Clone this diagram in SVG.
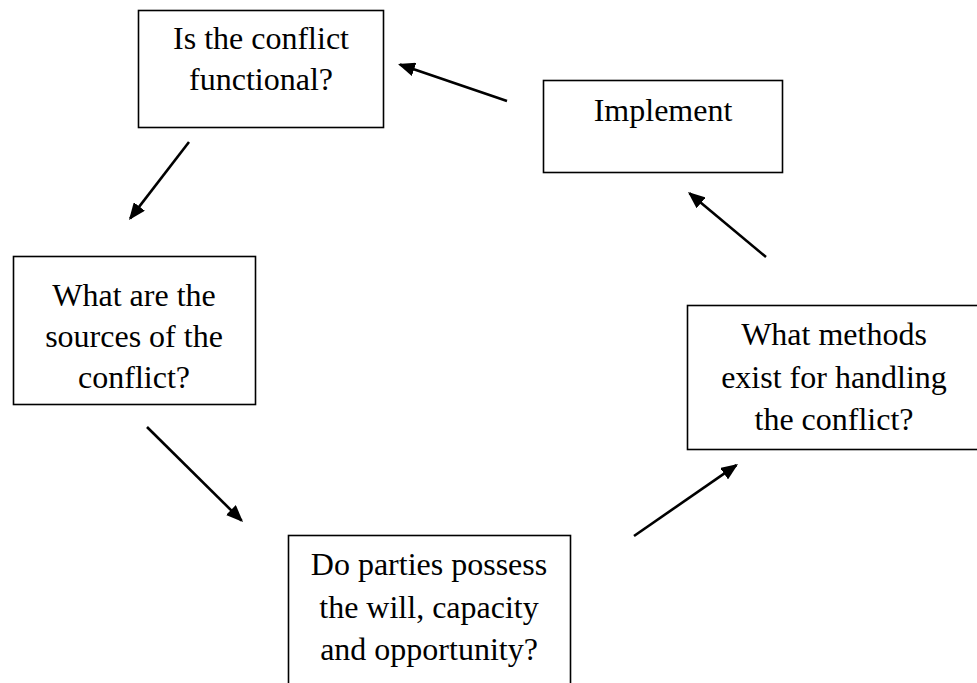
<svg xmlns="http://www.w3.org/2000/svg" width="977" height="683" viewBox="0 0 977 683">
  <style>
    .box { fill: #ffffff; stroke: #000000; stroke-width: 1.6; }
    .label { font-family: "Liberation Serif", "Times New Roman", serif; font-size: 32px; fill: #000000; text-anchor: middle; }
    .conn { stroke: #000000; stroke-width: 2.6; fill: none; marker-end: url(#head); }
  </style>
  <defs>
    <marker id="head" markerUnits="userSpaceOnUse" viewBox="0 0 17 14" markerWidth="17" markerHeight="14" refX="15" refY="7" orient="auto">
      <path d="M0,0 L17,7 L0,14 z" fill="#000000"/>
    </marker>
  </defs>
  <rect width="977" height="683" fill="#ffffff"/>

  <g id="node-functional">
    <rect class="box" x="138.5" y="10.5" width="245" height="117"/>
    <text class="label" x="261" y="49">Is the conflict</text>
    <text class="label" x="261" y="90">functional?</text>
  </g>

  <g id="node-implement">
    <rect class="box" x="543.5" y="80.5" width="239" height="92"/>
    <text class="label" x="663" y="121">Implement</text>
  </g>

  <g id="node-sources">
    <rect class="box" x="13.5" y="256.5" width="242" height="148"/>
    <text class="label" x="134" y="306">What are the</text>
    <text class="label" x="134" y="347">sources of the</text>
    <text class="label" x="134" y="388">conflict?</text>
  </g>

  <g id="node-methods">
    <rect class="box" x="687.5" y="305.5" width="294" height="144"/>
    <text class="label" x="834" y="345">What methods</text>
    <text class="label" x="834" y="388">exist for handling</text>
    <text class="label" x="834" y="430">the conflict?</text>
  </g>

  <g id="node-parties">
    <rect class="box" x="288.5" y="535.5" width="282" height="160"/>
    <text class="label" x="429" y="575">Do parties possess</text>
    <text class="label" x="429" y="618">the will, capacity</text>
    <text class="label" x="429" y="660">and opportunity?</text>
  </g>

  <g id="connectors">
    <line class="conn" x1="507" y1="101" x2="399.9" y2="64.6"/>
    <line class="conn" x1="189" y1="142" x2="130.2" y2="218.4"/>
    <line class="conn" x1="147" y1="427" x2="241.6" y2="520.6"/>
    <line class="conn" x1="634" y1="536" x2="736.4" y2="465.1"/>
    <line class="conn" x1="766" y1="257" x2="689.5" y2="193.3"/>
  </g>
</svg>
